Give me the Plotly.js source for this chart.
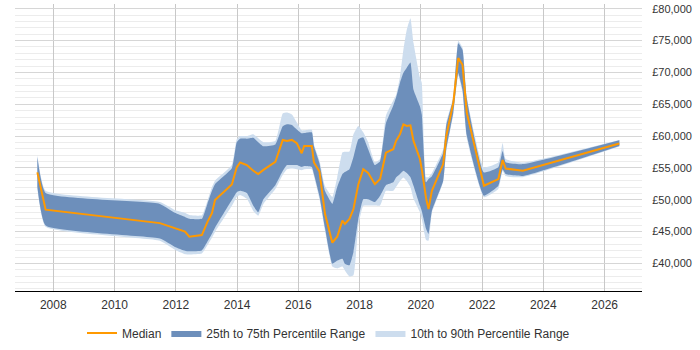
<!DOCTYPE html>
<html>
<head>
<meta charset="utf-8">
<script src="https://cdn.plot.ly/plotly-3.0.1.min.js"></script>
<style>html,body{margin:0;padding:0;background:#fff;}#chart{width:700px;height:350px;}</style>
</head>
<body>
<div id="chart"></div>
<script>
const years = [2007.48, 2007.75, 2011.48, 2011.97, 2012.30, 2012.44, 2012.85, 2013.03, 2013.18, 2013.28,
  2013.83, 2013.99, 2014.10, 2014.32, 2014.53, 2014.69, 2014.86, 2015.25, 2015.49, 2015.63,
  2015.79, 2015.95, 2016.11, 2016.19, 2016.44, 2016.51, 2016.69, 2016.87, 2017.11, 2017.27,
  2017.44, 2017.52, 2017.67, 2017.80, 2017.96, 2018.12, 2018.28, 2018.50, 2018.67, 2018.86,
  2019.10, 2019.19, 2019.32, 2019.43, 2019.54, 2019.66, 2019.76, 2019.97, 2020.03, 2020.17,
  2020.25, 2020.36, 2020.73, 2020.83, 2021.06, 2021.22, 2021.36, 2021.50, 2022.06, 2022.53,
  2022.67, 2022.77, 2023.33, 2026.48];

const p90 = [57000, 51400, 49650, 48400, 47950, 47600, 47550, 49800, 52000, 53000,
  55450, 59500, 60000, 60000, 60300, 59650, 59050, 59250, 63550, 63700,
  63400, 62150, 60900, 60900, 61000, 58700, 56200, 52150, 50450, 53550,
  57450, 57550, 57600, 60300, 61600, 60600, 59050, 55900, 56400, 63250,
  65600, 66400, 69350, 73550, 76700, 78500, 74650, 69200, 68400, 53550,
  53550, 54200, 57950, 62150, 66200, 74950, 73900, 66200, 55100, 55850,
  58900, 56400, 55850, 59400];

const p75 = [56700, 51050, 49350, 47950, 47300, 47000, 47000, 49350, 51400, 52450,
  54950, 59050, 59600, 59600, 59750, 59050, 58400, 58700, 61550, 61850,
  61750, 61050, 60450, 60500, 60600, 58400, 55750, 51400, 49350, 52000,
  54050, 54350, 54800, 56700, 59500, 59800, 57950, 55450, 56050, 62000,
  64800, 66050, 68400, 69950, 70750, 71550, 67300, 64700, 63400, 52750,
  53250, 53700, 57400, 61700, 65900, 74600, 73550, 65900, 54300, 55100,
  57650, 55900, 55600, 59350];

const p50 = [54300, 48450, 46330, 45600, 45000, 44200, 44450, 46500, 47900, 49950,
  52400, 55100, 55850, 55450, 54550, 54050, 54700, 55950, 59400, 59250,
  59400, 58900, 57300, 58450, 58450, 55850, 54450, 47800, 43250, 44200,
  46750, 46200, 47000, 48550, 52450, 54800, 54200, 52450, 53250, 57400,
  57950, 59250, 60300, 61850, 61600, 61700, 59250, 56400, 54800, 50250,
  48550, 51400, 55600, 60000, 65250, 72250, 71200, 63650, 52200, 53250,
  56250, 54900, 54550, 58850];

const p25 = [52000, 45950, 43900, 42600, 42000, 41900, 42050, 43400, 44650, 45600,
  49950, 51200, 51400, 51050, 49050, 48050, 50100, 52300, 54500, 55450,
  55450, 55450, 55150, 55300, 55150, 54050, 50600, 45600, 39950, 40450,
  40750, 39950, 39700, 41800, 47000, 50100, 50100, 49650, 50650, 52300,
  52750, 53500, 54050, 54550, 54200, 53550, 52200, 49100, 48250, 45450,
  44650, 48250, 53000, 57950, 63700, 69900, 67300, 60150, 50650, 52200,
  54800, 54050, 53750, 58450];

const p10 = [51700, 45750, 43550, 42150, 41450, 41400, 41550, 42850, 44050, 44950,
  49050, 50450, 50750, 50150, 48250, 47500, 49350, 51700, 53900, 54800,
  54900, 54800, 54650, 54800, 54800, 53700, 50150, 45150, 39500, 39200,
  39500, 38900, 37950, 38150, 45950, 49050, 49100, 49100, 49100, 51400,
  51400, 52000, 52950, 53500, 52950, 52000, 50150, 48050, 47000, 43700,
  43550, 47950, 52800, 57600, 63400, 69500, 66850, 59650, 50400, 51700,
  54500, 53700, 53550, 58350];

const seriesNames = ['Median', '25th to 75th Percentile Range', '10th to 90th Percentile Range'];

const lightColor = '#CDDDEE';
const darkColor = '#6D8FBB';
const medianColor = '#FF9900';
const bandLine = {width: 0, shape: 'spline', smoothing: 0.4};

const traces = [
  {x: years, y: p10, type: 'scatter', mode: 'lines', line: Object.assign({color: lightColor}, bandLine), showlegend: false, hoverinfo: 'skip'},
  {x: years, y: p90, type: 'scatter', mode: 'lines', line: Object.assign({color: lightColor}, bandLine), fill: 'tonexty', fillcolor: lightColor, name: seriesNames[2], legendrank: 3},
  {x: years, y: p25, type: 'scatter', mode: 'lines', line: Object.assign({color: darkColor}, bandLine), showlegend: false, hoverinfo: 'skip'},
  {x: years, y: p75, type: 'scatter', mode: 'lines', line: Object.assign({color: darkColor}, bandLine), fill: 'tonexty', fillcolor: darkColor, name: seriesNames[1], legendrank: 2},
  {x: years, y: p50, type: 'scatter', mode: 'lines', line: {width: 2, color: medianColor}, name: seriesNames[0], legendrank: 1}
];

const layout = {
  width: 700, height: 350,
  margin: {l: 15, r: 58, t: 4, b: 58},
  paper_bgcolor: '#fff', plot_bgcolor: '#fff',
  font: {family: 'Arial, "Liberation Sans", sans-serif', size: 12, color: '#333'},
  xaxis: {
    range: [2006.75, 2027.22], tick0: 2008, dtick: 2, tickformat: 'd',
    showgrid: true, gridcolor: '#c8c8c8', gridwidth: 1, zeroline: false,
    showline: true, linecolor: '#000', linewidth: 1,
    ticks: 'outside', ticklen: 3, tickcolor: 'rgba(0,0,0,0)'
  },
  yaxis: {
    side: 'right', range: [35670, 80750], tick0: 40000, dtick: 5000,
    tickprefix: '£', tickformat: ',d',
    showgrid: true, gridcolor: '#d6d6d6', zeroline: false, showline: false,
    minor: {dtick: 1000, tick0: 0, showgrid: true, gridcolor: '#ececec'},
    ticks: 'outside', ticklen: 7, tickcolor: 'rgba(0,0,0,0)',
    tickfont: {size: 11}
  },
  showlegend: true,
  legend: {orientation: 'h', x: 0.5, xanchor: 'center', y: -0.142, yanchor: 'middle',
    itemwidth: 30, font: {size: 12, color: '#333'}, traceorder: 'normal'}
};

Plotly.newPlot('chart', traces, layout, {staticPlot: true, displayModeBar: false});
</script>
</body>
</html>
